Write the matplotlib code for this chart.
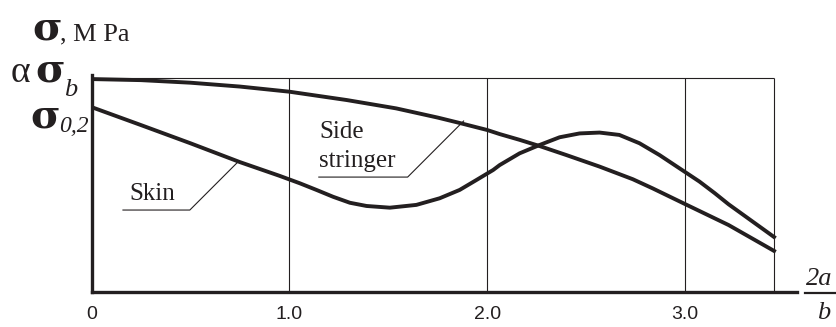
import matplotlib.pyplot as plt

# readings (x = 2a/b, y = stress as fraction of alpha*sigma_b height)
x_skin = [0.0, 0.25, 0.5, 0.75, 0.95, 1.053, 1.137, 1.221, 1.306, 1.39, 1.508, 1.642,
          1.76, 1.861, 1.945, 2.03, 2.063, 2.164, 2.265, 2.366, 2.467, 2.568, 2.668,
          2.77, 2.871, 2.972, 3.073, 3.15, 3.22, 3.45]
y_skin = [0.864, 0.78, 0.695, 0.607, 0.543, 0.508, 0.477, 0.445, 0.417, 0.402, 0.394, 0.407,
          0.438, 0.477, 0.523, 0.57, 0.593, 0.648, 0.687, 0.723, 0.741, 0.745, 0.734,
          0.695, 0.64, 0.578, 0.516, 0.462, 0.41, 0.257]

x_str = [0.0, 0.25, 0.5, 0.75, 1.0, 1.29, 1.54, 1.75, 1.86, 2.0, 2.063, 2.164, 2.265,
         2.40, 2.568, 2.736, 2.837, 3.0, 3.22, 3.45]
y_str = [0.995, 0.99, 0.978, 0.96, 0.936, 0.897, 0.858, 0.815, 0.79, 0.757, 0.738, 0.711, 0.682,
         0.64, 0.586, 0.527, 0.484, 0.411, 0.313, 0.192]

x_ticks = [0, 1.0, 2.0, 3.0]
x_ticklabels = ['0', '1.0', '2.0', '3.0']
x_grid = [1.0, 2.0, 3.0, 3.45]
y_top = 1.0

ink = '#231f20'
W, H = 836, 327

def px(x, y):
    return x / W, 1 - y / H

fig = plt.figure(figsize=(W / 100, H / 100), dpi=100)
ax = fig.add_axes([91.5 / W, 35 / H, (797 - 91.5) / W, 217 / H])
ax.set_xlim(0, 3.566)
ax.set_ylim(0, 1.014)

for s in ['top', 'right']:
    ax.spines[s].set_visible(False)
for s in ['left', 'bottom']:
    ax.spines[s].set_linewidth(2.4)
    ax.spines[s].set_color(ink)

ax.vlines(x_grid, 0, y_top, color=ink, lw=0.8)
ax.hlines(y_top, 0, x_grid[-1], color=ink, lw=0.8)

ax.plot(x_str, y_str, color=ink, lw=2.8, solid_joinstyle='round')
ax.plot(x_skin, y_skin, color=ink, lw=2.8, solid_joinstyle='round')

ax.set_xticks(x_ticks)
ax.set_xticklabels(x_ticklabels, family='Liberation Sans', fontsize=14, color=ink)
ax.tick_params(axis='x', length=0, pad=10)
ax.set_yticks([])

# curve labels with leaders
lab = dict(family='Liberation Serif', fontsize=18, color=ink)
ax.text(0.19, 0.43, 'Skin', va='baseline', **lab)
ax.plot([0.159, 0.497, 0.735], [0.383, 0.383, 0.603], color=ink, lw=0.8)
ax.text(1.15, 0.72, 'Side', va='baseline', **lab)
ax.text(1.15, 0.584, 'stringer', va='baseline', **lab)
ax.plot([1.149, 1.598, 1.881], [0.537, 0.537, 0.799], color=ink, lw=0.8)

# axis captions
sig = dict(family='DejaVu Serif', weight='bold', fontsize=29, color=ink, va='baseline')
fig.text(*px(32, 40), 'σ', **sig)
fig.text(*px(60, 40), ', M Pa', family='Liberation Serif', fontsize=19, color=ink, va='baseline')

fig.text(*px(11, 82), 'α', family='Liberation Serif', fontsize=27, color=ink, va='baseline')
fig.text(*px(35, 82), 'σ', **sig)
fig.text(*px(64, 96), 'b', family='Liberation Serif', style='italic', fontsize=19, color=ink, va='baseline')

fig.text(*px(30, 127), 'σ', **sig)
fig.text(*px(59, 132), '0,2', family='Liberation Serif', style='italic', fontsize=17, color=ink, va='baseline')

fig.text(*px(806, 285), '2a', family='Liberation Serif', style='italic', fontsize=19, color=ink, va='baseline')
fig.add_artist(plt.Line2D([805 / W, 1.0], [1 - 293 / H, 1 - 293 / H], color=ink, lw=1.6))
fig.text(*px(817, 319), 'b', family='Liberation Serif', style='italic', fontsize=19, color=ink, va='baseline')

fig.savefig('out.png', dpi=100)
